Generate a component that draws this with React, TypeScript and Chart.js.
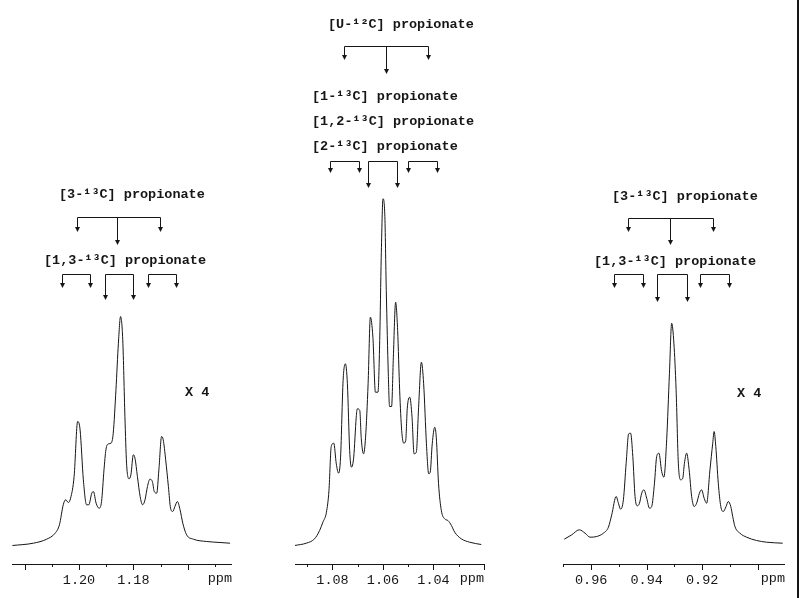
import React, { useEffect, useRef } from "react";
import { Chart, registerables } from "chart.js";

Chart.register(...registerables);

// ---------- data (ppm, intensity) ----------
const leftPpm = [1.2245,1.2168,1.2119,1.2088,1.2072,1.2058,1.2049,1.2039,1.2031,1.2018,1.2005,1.1996,1.1984,1.1972,1.1964,1.1953,1.1947,1.1937,1.1926,1.1917,1.1908,1.1901,1.1891,1.1882,1.1874,1.1864,1.1855,1.1847,1.1839,1.1831,1.1825,1.1816,1.1809,1.1800,1.1794,1.1785,1.1775,1.1766,1.1757,1.1748,1.1739,1.1730,1.1723,1.1714,1.1706,1.1696,1.1690,1.1681,1.1671,1.1663,1.1655,1.1647,1.1638,1.1628,1.1618,1.1604,1.1579,1.1530,1.1481,1.1444];
const leftIntensity = [1,3.3,7.3,13.3,21.7,41.7,46.7,44,48.3,70,125,116.7,66.7,41.7,41.7,53.3,55,43.3,38.3,45,76.7,96.7,102.7,103.3,113.3,156.7,203.3,230,206.7,130,83.3,67.7,71.7,91.7,88.3,70,50,41.7,46.7,60,67.3,65,55,53.3,76.7,110,106.7,86.7,60,38.3,35,40,45,36.7,23.3,11.7,7.3,5,4,3.3];

const midPpm = [1.0950,1.0904,1.0871,1.0851,1.0838,1.0824,1.0814,1.0805,1.0795,1.0785,1.0776,1.0768,1.0758,1.0749,1.0741,1.0732,1.0725,1.0716,1.0706,1.0702,1.0692,1.0686,1.0677,1.0669,1.0659,1.0650,1.0640,1.0630,1.0620,1.0613,1.0607,1.0600,1.0593,1.0587,1.0579,1.0574,1.0566,1.0559,1.0550,1.0542,1.0534,1.0526,1.0518,1.0510,1.0504,1.0494,1.0485,1.0477,1.0468,1.0459,1.0448,1.0439,1.0428,1.0419,1.0413,1.0405,1.0395,1.0389,1.0380,1.0369,1.0356,1.0343,1.0329,1.0316,1.0290,1.0257,1.0211];
const midIntensity = [1,3.3,7.7,16,24.3,34.3,56,100,103.3,82.7,73.3,89.3,166,182.7,162.7,96,79.3,89.3,129.3,137.7,136,107.7,92.7,109.3,162.7,229.3,209.3,154.3,154.3,206,289.3,347.7,332.7,256,172.7,140,140,189.3,244.3,216,156,116,103.3,106,137.7,149.3,129.3,92.7,94.3,139.3,184.3,162.7,102.7,72.7,74.3,102.7,119.3,109.3,62.7,36,27.7,26,21,14.3,7.7,4.3,2];

const rightPpm = [0.9697,0.9670,0.9643,0.9622,0.9604,0.9580,0.9556,0.9538,0.9526,0.9510,0.9502,0.9494,0.9484,0.9474,0.9465,0.9458,0.9450,0.9442,0.9434,0.9426,0.9418,0.9410,0.9400,0.9390,0.9382,0.9372,0.9364,0.9356,0.9346,0.9338,0.9328,0.9318,0.9310,0.9302,0.9294,0.9286,0.9277,0.9270,0.9264,0.9256,0.9247,0.9238,0.9229,0.9220,0.9210,0.9202,0.9193,0.9184,0.9172,0.9162,0.9157,0.9151,0.9142,0.9133,0.9124,0.9114,0.9106,0.9097,0.9090,0.9082,0.9064,0.9040,0.9004,0.8968,0.8910];
const rightIntensity = [7.3,11.7,16.7,13.3,9.3,10,13.3,19.3,31.7,50,43.3,37.3,46.7,83.3,112.7,113.3,90,50,40.7,43.3,53.3,56.7,48.3,38.3,40,63.3,90,93.3,75,69.3,106.7,173.3,223.3,203.3,156.7,83.3,66.7,68.3,83.3,93.3,76.7,50,40,43.3,53.3,56.7,48.3,43.3,76.7,103.3,115,100,63.3,40,35,40,45,40,30,20,13.3,9.3,6,4.3,3.3];

// ---------- axes ----------
const leftRange = [1.14369, 1.22466];
const midRange = [1.02, 1.09485];
const rightRange = [0.89016, 0.97016];

const leftMajor = [1.22, 1.20, 1.18, 1.16];
const leftMinor = [1.21, 1.19, 1.17, 1.15];
const leftLabels = ["1.20", "1.18"];
const midMajor = [1.08, 1.06, 1.04, 1.02];
const midMinor = [1.09, 1.07, 1.05, 1.03];
const midLabels = ["1.08", "1.06", "1.04"];
const rightMajor = [0.96, 0.94, 0.92, 0.90];
const rightMinor = [0.97, 0.95, 0.93, 0.91];
const rightLabels = ["0.96", "0.94", "0.92"];

// ---------- multiplet markers (ppm) ----------
const leftTriplet = [1.2007, 1.1860, 1.1702];
const leftPairs = [[1.2063, 1.1960], [1.1904, 1.1801], [1.1746, 1.1643]];
const midTriplet = [1.07545, 1.05881, 1.04218];
const midPairs = [[1.0810, 1.0695], [1.0659, 1.0545], [1.0501, 1.0386]];
const rightTriplet = [0.9467, 0.9316, 0.9161];
const rightPairs = [[0.9518, 0.9413], [0.9363, 0.9255], [0.9208, 0.9104]];

// ---------- text ----------
const lbl3 = "[3-\u00b9\u00b3C] propionate";
const lbl13 = "[1,3-\u00b9\u00b3C] propionate";
const lblU = "[U-\u00b9\u00b2C] propionate";
const lbl1 = "[1-\u00b9\u00b3C] propionate";
const lbl12 = "[1,2-\u00b9\u00b3C] propionate";
const lbl2 = "[2-\u00b9\u00b3C] propionate";
const lblX4 = "X 4";

const W = 800;
const H = 598;
const AXIS_Y = 564;
const INK = "#161616";
const MONO = '"Liberation Mono", "Courier New", monospace';

type Panel = {
  id: string;
  ppm: number[];
  intensity: number[];
  range: number[];
  major: number[];
  minor: number[];
  labels: string[];
  axisLeft: number;
  axisRight: number;
  texts: { t: string; x: number; y: number }[];
  triplet: { ppm: number[]; barY: number; sideTip: number; centerTip: number };
  pairs: { ppm: number[][]; barY: number; outerTip: number; innerTip: number };
  border?: boolean;
};

const panels: Panel[] = [
  {
    id: "left",
    ppm: leftPpm,
    intensity: leftIntensity,
    range: leftRange,
    major: leftMajor,
    minor: leftMinor,
    labels: leftLabels,
    axisLeft: 12,
    axisRight: 232,
    texts: [
      { t: lbl3, x: 59, y: 195 },
      { t: lbl13, x: 44, y: 261 },
      { t: lblX4, x: 185, y: 393 },
    ],
    triplet: { ppm: leftTriplet, barY: 217, sideTip: 232, centerTip: 245 },
    pairs: { ppm: leftPairs, barY: 274, outerTip: 288, innerTip: 300 },
  },
  {
    id: "mid",
    ppm: midPpm,
    intensity: midIntensity,
    range: midRange,
    major: midMajor,
    minor: midMinor,
    labels: midLabels,
    axisLeft: 295,
    axisRight: 484,
    texts: [
      { t: lblU, x: 328, y: 25 },
      { t: lbl1, x: 312, y: 97 },
      { t: lbl12, x: 312, y: 122 },
      { t: lbl2, x: 312, y: 147 },
    ],
    triplet: { ppm: midTriplet, barY: 46, sideTip: 60, centerTip: 74 },
    pairs: { ppm: midPairs, barY: 161, outerTip: 173, innerTip: 188 },
  },
  {
    id: "right",
    ppm: rightPpm,
    intensity: rightIntensity,
    range: rightRange,
    major: rightMajor,
    minor: rightMinor,
    labels: rightLabels,
    axisLeft: 563,
    axisRight: 785,
    texts: [
      { t: lbl3, x: 612, y: 197 },
      { t: lbl13, x: 594, y: 262 },
      { t: lblX4, x: 737, y: 394 },
    ],
    triplet: { ppm: rightTriplet, barY: 218, sideTip: 232, centerTip: 245 },
    pairs: { ppm: rightPairs, barY: 274, outerTip: 288, innerTip: 302 },
    border: true,
  },
];

function drawArrow(ctx: CanvasRenderingContext2D, x: number, y1: number, tip: number) {
  ctx.beginPath();
  ctx.moveTo(x, y1);
  ctx.lineTo(x, tip - 4);
  ctx.stroke();
  ctx.beginPath();
  ctx.moveTo(x - 2.5, tip - 5);
  ctx.lineTo(x + 2.5, tip - 5);
  ctx.lineTo(x, tip);
  ctx.closePath();
  ctx.fill();
}

function drawBracket(ctx: CanvasRenderingContext2D, xs: number[], barY: number, tips: number[]) {
  const y = Math.round(barY) + 0.5;
  ctx.beginPath();
  ctx.moveTo(Math.min(...xs), y);
  ctx.lineTo(Math.max(...xs), y);
  ctx.stroke();
  xs.forEach((x, i) => drawArrow(ctx, x, y, tips[i]));
}

function makePlugin(p: Panel) {
  return {
    id: "annot-" + p.id,
    afterDraw(chart: any) {
      const ctx: CanvasRenderingContext2D = chart.ctx;
      const xs = chart.scales.x;
      const y0 = chart.chartArea.bottom;
      const px = (v: number) => Math.round(xs.getPixelForValue(v)) + 0.5;
      ctx.save();
      ctx.strokeStyle = INK;
      ctx.fillStyle = INK;
      ctx.lineWidth = 1;
      // axis line
      ctx.beginPath();
      ctx.moveTo(xs.left, y0 + 0.5);
      ctx.lineTo(xs.right, y0 + 0.5);
      ctx.stroke();
      // tick marks
      xs.ticks.forEach((t: any) => {
        const isMajor = p.major.some((m) => Math.abs(m - t.value) < 1e-6);
        const x = px(t.value);
        ctx.beginPath();
        ctx.moveTo(x, y0);
        ctx.lineTo(x, y0 + (isMajor ? 6 : 3));
        ctx.stroke();
      });
      // ppm unit
      ctx.font = `13.5px ${MONO}`;
      ctx.textAlign = "right";
      ctx.textBaseline = "top";
      ctx.fillText("ppm", xs.right, y0 + 8);
      // labels
      ctx.font = `bold 13.5px ${MONO}`;
      ctx.textAlign = "left";
      ctx.textBaseline = "middle";
      p.texts.forEach((t) => ctx.fillText(t.t, t.x, t.y));
      // triplet bracket
      const tr = p.triplet;
      drawBracket(
        ctx,
        tr.ppm.map(px),
        tr.barY,
        tr.ppm.map((_, i) => (i === 1 ? tr.centerTip : tr.sideTip))
      );
      // pair brackets
      const pr = p.pairs;
      pr.ppm.forEach((pair, i) => {
        const tip = i === 1 ? pr.innerTip : pr.outerTip;
        drawBracket(ctx, pair.map(px), pr.barY, [tip, tip]);
      });
      if (p.border) {
        ctx.lineWidth = 2;
        ctx.beginPath();
        ctx.moveTo(798, 0);
        ctx.lineTo(798, H);
        ctx.stroke();
      }
      ctx.restore();
    },
  };
}

function PanelChart({ panel }: { panel: Panel }) {
  const ref = useRef<HTMLCanvasElement | null>(null);
  useEffect(() => {
    if (!ref.current) return;
    const n = Math.min(panel.ppm.length, panel.intensity.length);
    const points = [];
    for (let i = 0; i < n; i++) points.push({ x: panel.ppm[i], y: panel.intensity[i] });
    const tickValues = [...panel.major, ...panel.minor].sort((a, b) => b - a);
    const chart = new Chart(ref.current, {
      type: "line",
      data: {
        datasets: [
          {
            data: points,
            borderColor: INK,
            borderWidth: 1,
            pointRadius: 0,
            fill: false,
            cubicInterpolationMode: "monotone",
          },
        ],
      },
      options: {
        responsive: false,
        animation: false,
        devicePixelRatio: 1,
        layout: { padding: { left: panel.axisLeft, right: W - panel.axisRight, top: 0, bottom: 0 } },
        plugins: { legend: { display: false }, tooltip: { enabled: false } },
        scales: {
          x: {
            type: "linear",
            position: "bottom",
            reverse: true,
            min: panel.range[0],
            max: panel.range[1],
            afterBuildTicks: (s: any) => {
              s.ticks = tickValues.map((v) => ({ value: v }));
            },
            afterFit: (s: any) => {
              s.height = H - AXIS_Y;
            },
            grid: { display: false, drawTicks: false },
            border: { display: false },
            ticks: {
              autoSkip: false,
              maxRotation: 0,
              minRotation: 0,
              padding: 8,
              color: INK,
              font: { family: MONO, size: 13.5 },
              callback: (v: any) => {
                const s = Number(v).toFixed(2);
                return panel.labels.includes(s) ? s : "";
              },
            },
          },
          y: { display: false, min: -17.5, max: 546.5 },
        },
      } as any,
      plugins: [makePlugin(panel)],
    });
    return () => chart.destroy();
  }, [panel]);
  return (
    <canvas
      ref={ref}
      width={W}
      height={H}
      style={{ position: "absolute", left: 0, top: 0, width: W, height: H }}
    />
  );
}

export default function App() {
  return (
    <div
      style={{
        position: "absolute",
        left: 0,
        top: 0,
        width: W,
        height: H,
        background: "#ffffff",
        overflow: "hidden",
      }}
    >
      {panels.map((p) => (
        <PanelChart key={p.id} panel={p} />
      ))}
    </div>
  );
}
